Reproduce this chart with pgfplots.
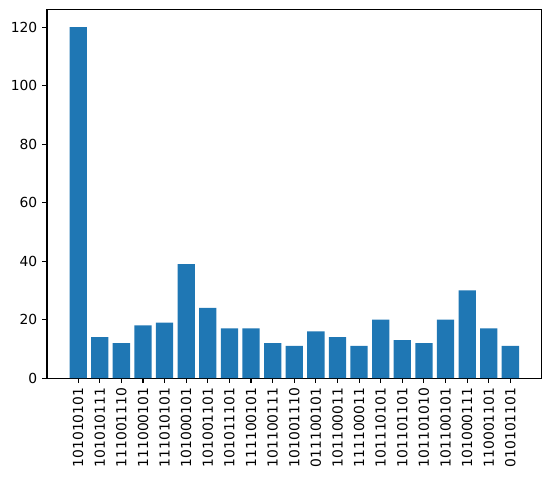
\documentclass[border={4.5pt 3.4pt 7.2pt 6.5pt}]{standalone}
\usepackage{fontspec}
\setmainfont{DejaVu Sans}
\usepackage{pgfplots}
\pgfplotsset{compat=1.18}
\definecolor{mplblue}{HTML}{1F77B4}
\begin{document}
\begin{tikzpicture}
\begin{axis}[
  scale only axis,
  width=357pt, height=266.1pt,
  xmin=-1.44, xmax=21.44,
  ymin=0, ymax=126,
  ytick={0,20,40,60,80,100,120},
  xtick={0,...,20},
  xticklabels={101010101,101010111,111001110,111000101,111010101,101000101,101001101,101011101,111100101,101100111,101001110,011100101,101100011,111100011,101110101,101101101,101101010,101100101,101000111,110001101,010101101},
  x tick label style={rotate=90, anchor=east, font=\fontsize{10}{12}\selectfont},
  y tick label style={font=\fontsize{10}{12}\selectfont},
  tick align=outside,
  major tick length=3.5pt,
  xtick pos=bottom, ytick pos=left,
  /pgf/number format/assume math mode=true,
  axis line style={line width=0.8pt},
  every tick/.style={black, line width=0.8pt},
  ybar, bar width=0.8, bar shift=0pt,
]
\addplot[fill=mplblue, draw=none] coordinates {
(0,120) (1,14) (2,12) (3,18) (4,19) (5,39) (6,24) (7,17) (8,17) (9,12) (10,11)
(11,16) (12,14) (13,11) (14,20) (15,13) (16,12) (17,20) (18,30) (19,17) (20,11)
};
\end{axis}
\end{tikzpicture}
\end{document}
